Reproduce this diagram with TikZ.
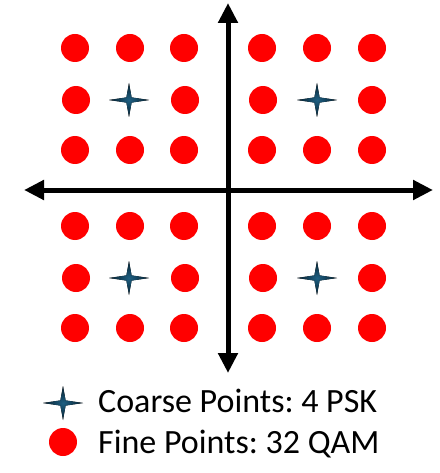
\documentclass[tikz,border=0pt]{standalone}
\usepackage{fontspec}
\setmainfont{Carlito}
\usetikzlibrary{arrows.meta}
\definecolor{dotred}{RGB}{255,0,0}
\definecolor{starnavy}{RGB}{6,30,44}
\definecolor{starlight}{RGB}{30,95,130}
\tikzset{
  dot/.style={circle,fill=dotred,draw=none,minimum size=28pt,inner sep=0pt},
  axis/.style={line width=5pt,-{Triangle[length=20pt,width=19pt]}},
  legendtext/.style={anchor=base west,inner sep=0pt,font=\fontsize{34}{40}\selectfont}
}
\newcommand{\fourstar}[1]{%
  \fill[inner color=starlight,outer color=starnavy] (#1) ++(0,-17) -- ++(2.6,14.4) -- ++(17.4,2.6) -- ++(-17.4,2.6) -- ++(-2.6,14.4) -- ++(-2.6,-14.4) -- ++(-17.4,-2.6) -- ++(17.4,-2.6) -- cycle;}
\frenchspacing
\begin{document}
\begin{tikzpicture}[x=1pt,y=-1pt]
\useasboundingbox (0,0) rectangle (439,473);
% axes
\coordinate (o) at (228,190);
\coordinate (xl) at (24,190);
\coordinate (xr) at (433,190);
\coordinate (yt) at (228,3);
\coordinate (yb) at (228,373);
\draw[axis] (o) -- (xl);
\draw[axis] (o) -- (xr);
\draw[axis] (o) -- (yt);
\draw[axis] (o) -- (yb);
% dots
\foreach \x/\i in {75/1,130/2,184/3,262/4,317/5,372/6}{
  \foreach \y/\j in {48/1,150/3,226/4,328/6}{
    \node[dot] (d\i\j) at (\x,\y) {};
  }
}
\foreach \x/\i in {76/1,185/3,263/4,372/6}{
  \foreach \y/\j in {100/2,278/5}{
    \node[dot] (d\i\j) at (\x,\y) {};
  }
}
% stars
\coordinate (s1) at (129,100);
\coordinate (s2) at (317,100);
\coordinate (s3) at (129,278);
\coordinate (s4) at (317,278);
\fourstar{s1}
\fourstar{s2}
\fourstar{s3}
\fourstar{s4}
% legend
\coordinate (ls) at (63,403);
\fourstar{ls}
\node[dot] (ld) at (63,442) {};
\node[legendtext] (lt1) at (98,412) {\frenchspacing Coarse Points: 4 PSK};
\node[legendtext] (lt2) at (98,453) {\frenchspacing Fine Points: 32 QAM};
\end{tikzpicture}
\end{document}
